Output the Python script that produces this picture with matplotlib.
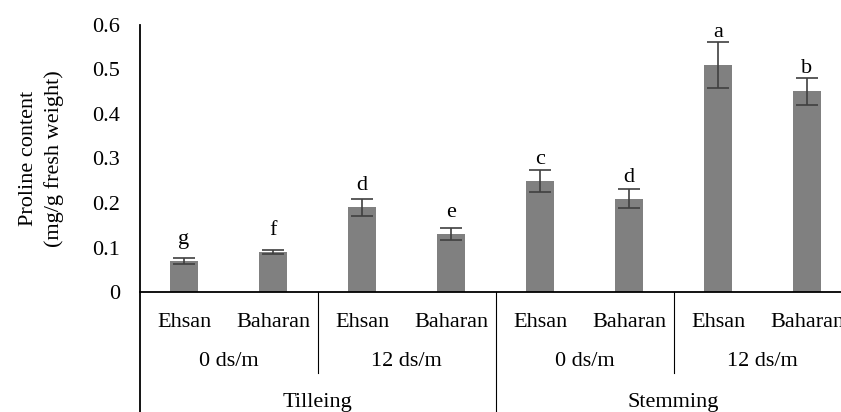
import matplotlib
matplotlib.use("Agg")
import matplotlib.pyplot as plt
import numpy as np
from matplotlib.transforms import blended_transform_factory

plt.rcParams['font.family'] = ['Liberation Serif', 'DejaVu Serif']

varieties = ["Ehsan", "Baharan", "Ehsan", "Baharan", "Ehsan", "Baharan", "Ehsan", "Baharan"]
salinity = ["0 ds/m", "12 ds/m", "0 ds/m", "12 ds/m"]
stages = ["Tilleing", "Stemming"]
values = [0.070, 0.091, 0.190, 0.130, 0.250, 0.210, 0.509, 0.450]
errors = [0.007, 0.0045, 0.020, 0.013, 0.025, 0.021, 0.051, 0.030]
letters = ["g", "f", "d", "e", "c", "d", "a", "b"]
yticks = [0, 0.1, 0.2, 0.3, 0.4, 0.5, 0.6]
ytick_labels = ["0", "0.1", "0.2", "0.3", "0.4", "0.5", "0.6"]

FS = 16
W, H = 841, 412
fig = plt.figure(figsize=(W / 100, H / 100), dpi=100)
ax_left, ax_bottom, ax_right, ax_top = 139.5, 292.3, 139.5 + 8 * 89, 24.5
ax = fig.add_axes([ax_left / W, (H - ax_bottom) / H, (ax_right - ax_left) / W, (ax_bottom - ax_top) / H])

x = np.arange(len(values))
ax.bar(x, values, width=0.315, color="#808080", zorder=2)
ax.errorbar(x, values, yerr=errors, fmt="none", ecolor="#404040", elinewidth=1.2,
            capsize=8, capthick=1.2, zorder=3)

px = 0.6 / (ax_bottom - ax_top)  # data units per pixel
for xi, v, e, l in zip(x, values, errors, letters):
    y = max(v + 17 * px, v + e + 5 * px)
    ax.text(xi, y, l, ha="center", va="baseline", fontsize=FS)

ax.set_xlim(-0.5, len(values) - 0.5)
ax.set_ylim(0, 0.6)
ax.set_yticks(yticks)
ax.set_yticklabels(ytick_labels, fontsize=FS)
ax.tick_params(axis="y", length=0, pad=14)
ax.set_xticks([])
for s in ["top", "right"]:
    ax.spines[s].set_visible(False)
ax.spines["left"].set_visible(False)
ax.spines["bottom"].set_linewidth(1.3)

trans = blended_transform_factory(ax.transData, ax.transAxes)
hpx = ax_bottom - ax_top

def ay(ypix):
    return (ax_bottom - ypix) / hpx

# left axis line extending down
ax.plot([-0.5, -0.5], [1.0, ay(415)], transform=trans, color="black", lw=1.3, clip_on=False)
# group dividers
for xd, yend in [(1.5, 373), (3.5, 415), (5.5, 373)]:
    ax.plot([xd, xd], [0, ay(yend)], transform=trans, color="black", lw=0.8, clip_on=False)

for xi, lab in zip(x, varieties):
    ax.text(xi, ay(326.7), lab, transform=trans, ha="center", va="baseline", fontsize=FS, clip_on=False)
for i, lab in enumerate(salinity):
    ax.text(2 * i + 0.5, ay(366), lab, transform=trans, ha="center", va="baseline", fontsize=FS, clip_on=False)
for i, lab in enumerate(stages):
    ax.text(4 * i + 1.5, ay(406.5), lab, transform=trans, ha="center", va="baseline", fontsize=FS, clip_on=False)

ax.set_ylabel("Proline content\n(mg/g fresh weight)", fontsize=FS, linespacing=1.4)
ax.yaxis.set_label_coords(-(ax_left - 64) / (ax_right - ax_left), 0.5)

fig.savefig("out.png", dpi=100)
